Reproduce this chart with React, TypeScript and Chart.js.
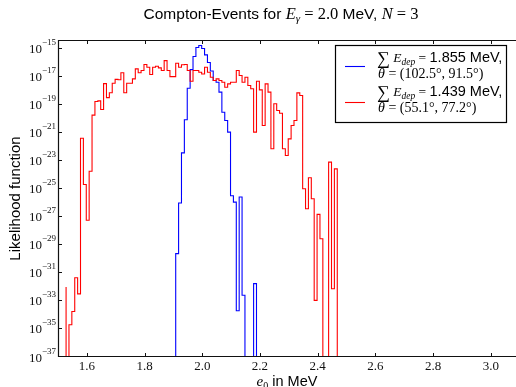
import React, { useEffect, useRef } from "react";
import { Chart, registerables } from "chart.js";

Chart.register(...registerables);

// ---------------- data ----------------
const binStart = 1.528; // left edge of bin 0 (MeV)
const binWidth = 0.01; // MeV

// log10(likelihood) per bin, null = empty bin
const redFirstBin = 0;
const redLog10: (number | null)[] = [
  -32.0, null, -34.7, -33.75, -31.35, -32.5, -21.4, -24.7, -27.25, -23.75,
  -19.75, -18.78, -18.73, -19.35, -17.5, -18.5, -18.15, -17.47, -17.2, -17.23,
  -16.73, -18.15, -17.47, -17.47, -17.16, -16.45, -16.73, -16.57, -16.14, -16.33,
  -16.85, -16.33, -16.26, -16.38, -16.57, -15.86, -16.57, -17.0, -17.0, -16.05,
  -16.33, -16.16, -16.14, -16.57, -17.33, -16.57, -16.57, -16.69, -16.81, -16.33,
  -16.69, -17.05, -17.28, -17.16, -17.28, -17.4, -17.76, -17.52, -17.4, -17.4,
  -16.57, -16.92, -17.4, -17.05, -17.64, -17.87, -20.96, -17.33, -17.95, -20.49,
  -17.52, -18.11, -22.15, -18.94, -19.42, -19.61, -22.15, -22.63, -21.44, -20.49,
  -20.13, -18.16, -18.35, -25.0, -26.43, -24.22, -25.71, -32.96, -26.83, -28.57,
  null, null, -23.1, -32.13, -23.58,
];

const blueFirstBin = 38;
const blueLog10: (number | null)[] = [
  -33.98, -29.63, -26.02, -22.44, -20.08, -17.83, -16.5, -15.57, -14.92, -14.78,
  -15.0, -15.45, -16.0, -16.6, -17.28, -17.4, -18.11, -19.54, -20.13, -20.96,
  -25.5, -25.95, -33.7, -25.59, -32.6, null, null, null, -31.77,
];

const xTickValues = [1.6, 1.8, 2.0, 2.2, 2.4, 2.6, 2.8, 3.0];
const xTickLabels = ["1.6", "1.8", "2.0", "2.2", "2.4", "2.6", "2.8", "3.0"];
const yTickExponents = [-37, -35, -33, -31, -29, -27, -25, -23, -21, -19, -17, -15];
const xMin = 1.5;
const xMax = 3.0875;
const yMinExp = -37;
const yMaxExp = -14.39;

const blueSum = "1.855";
const blueTheta = "(102.5°, 91.5°)";
const redSum = "1.439";
const redTheta = "(55.1°, 77.2°)";

// ---------------- drawing helpers ----------------
const SANS = '"Liberation Sans", Arial, Helvetica, sans-serif';
const SERIF = '"Liberation Serif", "DejaVu Serif", serif';

type Part = { t: string; f: string; dy?: number };

function partsWidth(ctx: CanvasRenderingContext2D, parts: Part[]) {
  let w = 0;
  for (const p of parts) {
    ctx.font = p.f;
    w += ctx.measureText(p.t).width;
  }
  return w;
}

function drawParts(
  ctx: CanvasRenderingContext2D,
  parts: Part[],
  x: number,
  y: number,
  align: "left" | "center" | "right"
) {
  const w = partsWidth(ctx, parts);
  let cx = align === "left" ? x : align === "center" ? x - w / 2 : x - w;
  ctx.textAlign = "left";
  ctx.textBaseline = "alphabetic";
  for (const p of parts) {
    ctx.font = p.f;
    ctx.fillText(p.t, cx, y + (p.dy || 0));
    cx += ctx.measureText(p.t).width;
  }
}

function stepPoints(first: number, logs: (number | null)[]) {
  const floor = 1e-45;
  const pts: { x: number; y: number }[] = [];
  pts.push({ x: binStart + first * binWidth, y: floor });
  logs.forEach((l, i) => {
    pts.push({ x: binStart + (first + i) * binWidth, y: l === null ? floor : Math.pow(10, l) });
  });
  pts.push({ x: binStart + (first + logs.length) * binWidth, y: floor });
  return pts;
}

const decorPlugin = {
  id: "decor",
  afterDraw(chart: any) {
    const { ctx, chartArea: a, scales } = chart;
    const xs = scales.x;
    const ys = scales.y;
    ctx.save();

    // frame
    ctx.strokeStyle = "#111";
    ctx.lineWidth = 1.2;
    ctx.beginPath();
    ctx.moveTo(a.right + 2, a.top + 0.5);
    ctx.lineTo(a.left + 0.5, a.top + 0.5);
    ctx.lineTo(a.left + 0.5, a.bottom - 0.5);
    ctx.lineTo(a.right + 2, a.bottom - 0.5);
    ctx.stroke();

    // ticks (inward)
    ctx.lineWidth = 1;
    ctx.beginPath();
    const tl = 4;
    for (const v of xTickValues) {
      const px = Math.round(xs.getPixelForValue(v)) + 0.5;
      ctx.moveTo(px, a.bottom);
      ctx.lineTo(px, a.bottom - tl);
      ctx.moveTo(px, a.top);
      ctx.lineTo(px, a.top + tl);
    }
    for (const e of yTickExponents) {
      const py = Math.round(ys.getPixelForValue(Math.pow(10, e))) - 0.5;
      ctx.moveTo(a.left, py);
      ctx.lineTo(a.left + tl, py);
    }
    ctx.stroke();

    // tick labels
    ctx.fillStyle = "#111";
    xTickValues.forEach((v, i) => {
      const px = xs.getPixelForValue(v);
      drawParts(ctx, [{ t: xTickLabels[i], f: `13px ${SERIF}` }], px, a.bottom + 12.5, "center");
    });
    for (const e of yTickExponents) {
      const py = ys.getPixelForValue(Math.pow(10, e));
      drawParts(
        ctx,
        [
          { t: "10", f: `13px ${SERIF}` },
          { t: "\u2212" + String(-e), f: `9px ${SERIF}`, dy: -8 },
        ],
        a.left - 2,
        py + 4.5,
        "right"
      );
    }

    // title
    ctx.fillStyle = "#000";
    const cxPlot = (a.left + a.right) / 2;
    drawParts(
      ctx,
      [
        { t: "Compton-Events for ", f: `15.5px ${SANS}` },
        { t: "E", f: `italic 16.5px ${SERIF}` },
        { t: "\u03b3", f: `italic 11px ${SERIF}`, dy: 3 },
        { t: " = 2.0", f: `16.5px ${SERIF}` },
        { t: " MeV, ", f: `15.5px ${SANS}` },
        { t: "N", f: `italic 16.5px ${SERIF}` },
        { t: " = 3", f: `16.5px ${SERIF}` },
      ],
      cxPlot - 6,
      18.5,
      "center"
    );

    // x axis label
    drawParts(
      ctx,
      [
        { t: "e", f: `italic 15px ${SERIF}` },
        { t: "0", f: `10px ${SERIF}`, dy: 3 },
        { t: " in MeV", f: `14.5px ${SANS}` },
      ],
      cxPlot,
      a.bottom + 28.5,
      "center"
    );

    // y axis label
    ctx.save();
    ctx.translate(20, (a.top + a.bottom) / 2);
    ctx.rotate(-Math.PI / 2);
    drawParts(ctx, [{ t: "Likelihood function", f: `15px ${SANS}` }], 0, 0, "center");
    ctx.restore();

    // legend
    const lx = 335.5;
    const ly = 45.5;
    const lw = 171;
    const lh = 77;
    ctx.fillStyle = "#fff";
    ctx.fillRect(lx, ly, lw, lh);
    ctx.strokeStyle = "#000";
    ctx.lineWidth = 1.2;
    ctx.strokeRect(lx, ly, lw, lh);

    const entries = [
      { color: "#0000ff", sum: blueSum, theta: blueTheta, y: 62, lineY: 66.5 },
      { color: "#ff0000", sum: redSum, theta: redTheta, y: 95.5, lineY: 102.5 },
    ];
    for (const en of entries) {
      ctx.strokeStyle = en.color;
      ctx.lineWidth = 1.1;
      ctx.beginPath();
      ctx.moveTo(345, en.lineY);
      ctx.lineTo(365, en.lineY);
      ctx.stroke();
      ctx.fillStyle = "#000";
      drawParts(
        ctx,
        [
          { t: "\u2211", f: `18px ${SERIF}`, dy: 2 },
          { t: " E", f: `italic 13.5px ${SERIF}` },
          { t: "dep", f: `italic 9.5px ${SERIF}`, dy: 3 },
          { t: " = ", f: `13.5px ${SERIF}` },
          { t: en.sum + " MeV,", f: `14.5px ${SANS}` },
        ],
        377,
        en.y,
        "left"
      );
      drawParts(
        ctx,
        [
          { t: "\u03b8", f: `italic 14px ${SERIF}` },
          { t: " = " + en.theta, f: `14px ${SERIF}` },
        ],
        378,
        en.y + 16,
        "left"
      );
    }

    ctx.restore();
  },
};

export default function App() {
  const ref = useRef<HTMLCanvasElement | null>(null);
  useEffect(() => {
    if (!ref.current) return;
    const chart = new Chart(ref.current, {
      type: "line",
      data: {
        datasets: [
          {
            label: "blue",
            data: stepPoints(blueFirstBin, blueLog10),
            borderColor: "#0000ff",
            borderWidth: 1.1,
            pointRadius: 0,
            stepped: "after",
            fill: false,
            order: 2,
          },
          {
            label: "red",
            data: stepPoints(redFirstBin, redLog10),
            borderColor: "#ff0000",
            borderWidth: 1.1,
            pointRadius: 0,
            stepped: "after",
            fill: false,
            order: 1,
          },
        ],
      },
      options: {
        animation: false,
        responsive: false,
        devicePixelRatio: 1,
        parsing: false as any,
        normalized: true,
        layout: { padding: { left: 58, top: 40, right: 0, bottom: 30 } },
        plugins: { legend: { display: false }, tooltip: { enabled: false }, title: { display: false } },
        events: [],
        scales: {
          x: { type: "linear", min: xMin, max: xMax, display: false },
          y: { type: "logarithmic", min: Math.pow(10, yMinExp), max: Math.pow(10, yMaxExp), display: false },
        },
      },
      plugins: [decorPlugin],
    });
    return () => chart.destroy();
  }, []);
  return (
    <div style={{ position: "fixed", left: 0, top: 0, width: 516, height: 387, background: "#fff" }}>
      <canvas ref={ref} width={516} height={387} style={{ display: "block" }} />
    </div>
  );
}
